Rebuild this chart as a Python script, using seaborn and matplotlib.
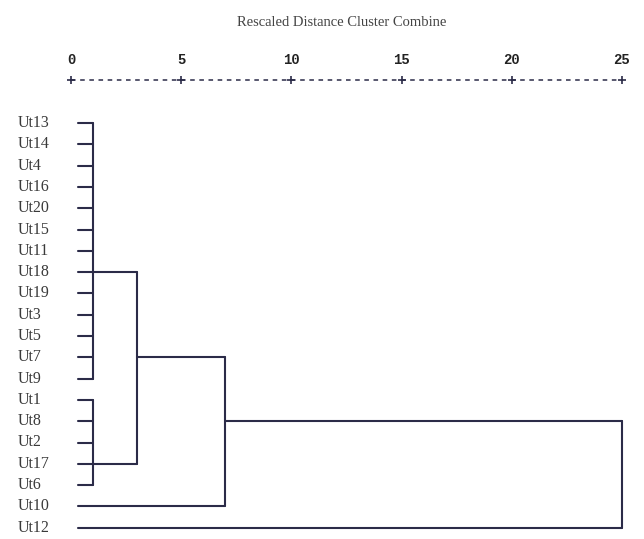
import pandas as pd
import seaborn as sns
import matplotlib.pyplot as plt

# leaf order as printed down the left side
leaves = ['Ut13', 'Ut14', 'Ut4', 'Ut16', 'Ut20', 'Ut15', 'Ut11', 'Ut18', 'Ut19', 'Ut3',
          'Ut5', 'Ut7', 'Ut9', 'Ut1', 'Ut8', 'Ut2', 'Ut17', 'Ut6', 'Ut10', 'Ut12']

# merges: name, children (leaf names or merge names), rescaled distance, row of outgoing link
merge_names = ['A', 'B', 'AB', 'ABC', 'root']
merge_children = [leaves[0:13], leaves[13:18], ['A', 'B'], ['AB', 'Ut10'], ['ABC', 'Ut12']]
merge_dist = [1.0, 1.0, 3.0, 7.0, 25.0]
merge_link_row = [7, 16, 11, 14, None]

ruler_ticks = [0, 5, 10, 15, 20, 25]
title = 'Rescaled Distance Cluster Combine'

sns.set_theme(style='white')
plt.rcParams['font.family'] = ['Liberation Serif', 'DejaVu Sans']

line_col = '#2b2b48'
text_col = '#3a3a3a'
leaf_start = 0.3

# node position: (x, row)
pos = {name: (leaf_start, i) for i, name in enumerate(leaves)}
segs = []
for name, kids, d, link in zip(merge_names, merge_children, merge_dist, merge_link_row):
    rows = []
    for k in kids:
        x0, r = pos[k]
        segs.append([(x0, r), (d, r)])
        rows.append(r)
    segs.append([(d, min(rows)), (d, max(rows))])
    pos[name] = (d, link)

recs = []
for i, s in enumerate(segs):
    for x, y in s:
        recs.append({'seg': i, 'x': x, 'y': y})
df = pd.DataFrame(recs)

fig = plt.figure(figsize=(6.44, 5.39), dpi=100)
ax = fig.add_axes([0, 0, 1, 1])

sns.lineplot(data=df, x='x', y='y', units='seg', estimator=None, sort=False,
             color=line_col, linewidth=1.5, ax=ax)

# pixel mapping: x=0 at 71px, 22.04 px/unit; row 0 at 123px, 21.3 px/row
px_x0, px_dx = 71, 22.04
px_y0, px_dy = 123, 21.3
ax.set_xlim(-px_x0 / px_dx, (644 - px_x0) / px_dx)
ax.set_ylim((539 - px_y0) / px_dy, -px_y0 / px_dy)
ax.axis('off')

# leaf labels
for i, name in enumerate(leaves):
    ax.text((18 - px_x0) / px_dx, i, name, ha='left', va='center',
            fontsize=11.5, color=text_col)

# dashed ruler with + marks
ruler_y = (80 - px_y0) / px_dy
ax.plot([ruler_ticks[0], ruler_ticks[-1]], [ruler_y, ruler_y], color=line_col,
        linewidth=1.1, linestyle=(0, (3, 3)))
ax.plot(ruler_ticks, [ruler_y] * len(ruler_ticks), linestyle='none', marker='+',
        markersize=6, markeredgewidth=1.2, color=line_col)
num_y = (60 - px_y0) / px_dy
for t in ruler_ticks:
    ax.text(t, num_y, str(t), ha='center', va='center', fontsize=10,
            family='Liberation Mono', fontweight='bold', color='#222222')

fig.text(342 / 644, 1 - 22 / 539, title, ha='center', va='center',
         fontsize=10.5, color='#444444')

fig.savefig('out.png', dpi=100)
